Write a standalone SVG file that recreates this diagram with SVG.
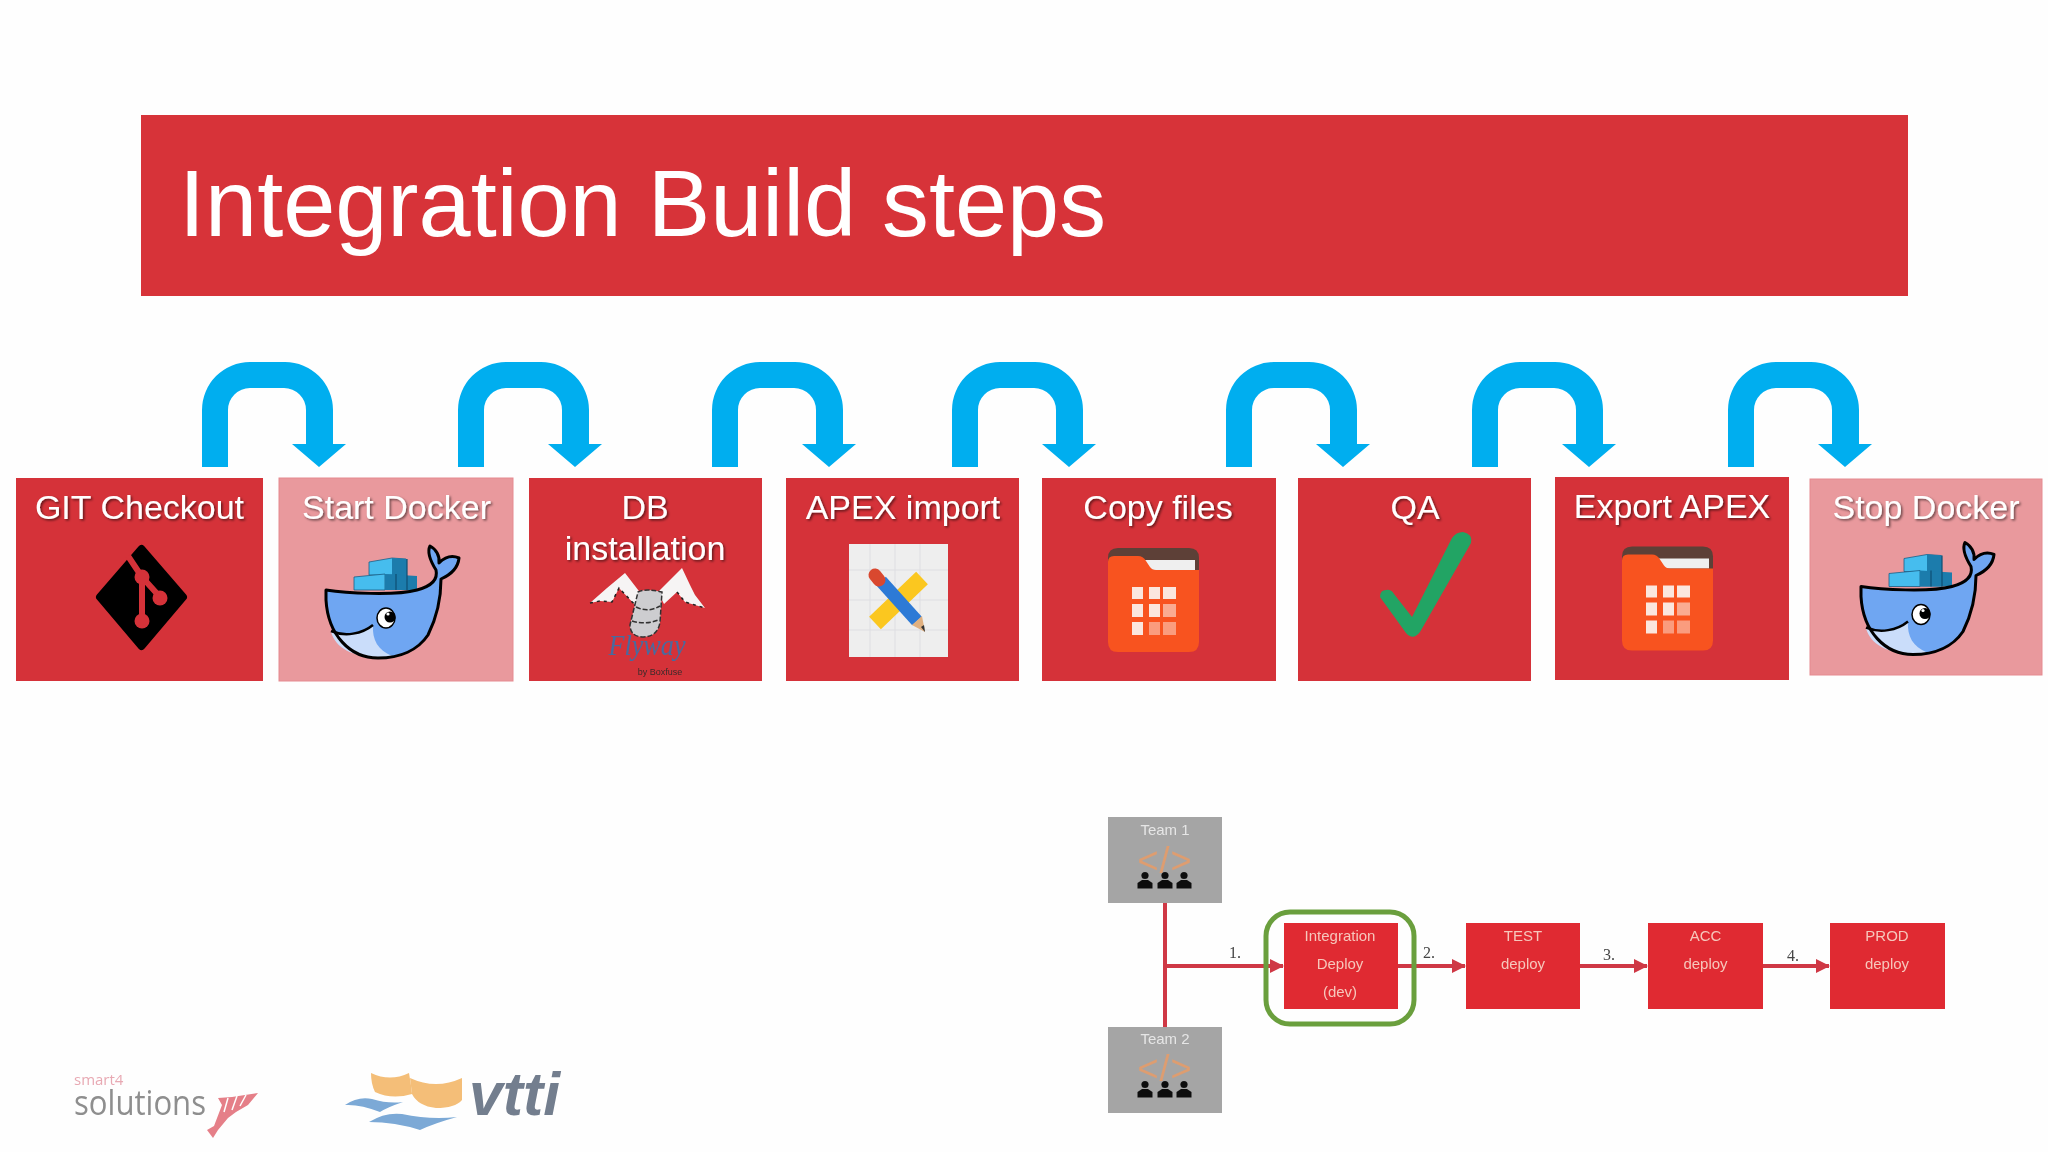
<svg xmlns="http://www.w3.org/2000/svg" xmlns:xlink="http://www.w3.org/1999/xlink" width="2048" height="1152" viewBox="0 0 2048 1152">
<style>
.box{fill:#D53239}
.pale{fill:#E9999D;stroke:#E58A90;stroke-width:1}
.lbl{font-family:"Liberation Sans",Arial,sans-serif;font-size:34px;fill:#fff;text-anchor:middle;filter:url(#ts)}
.sm{fill:#E02B32}
.smt{font-family:"Liberation Sans",Arial,sans-serif;font-size:15px;fill:#F6C7BC;text-anchor:middle}
.team{fill:#A5A5A5}
.teamt{font-family:"Liberation Sans",Arial,sans-serif;font-size:15px;fill:#E6E6E6;text-anchor:middle}
.code{font-family:"Liberation Sans",Arial,sans-serif;font-size:36px;fill:#DE9D70;text-anchor:middle;letter-spacing:1px}
.num{font-family:"Liberation Serif",serif;font-size:16px;fill:#444}
.red{stroke:#CF3845;stroke-width:4;fill:none}
</style>
<defs>
<filter id="ts" x="-10%" y="-20%" width="120%" height="150%"><feDropShadow dx="1.5" dy="1.5" stdDeviation="1" flood-color="#000" flood-opacity="0.55"/></filter>
<filter id="b" x="-5%" y="-5%" width="110%" height="110%"><feGaussianBlur stdDeviation="0.7"/></filter>
<filter id="b2" x="-5%" y="-5%" width="110%" height="110%"><feGaussianBlur stdDeviation="0.6"/></filter>
<marker id="ah" markerUnits="userSpaceOnUse" markerWidth="14" markerHeight="14" refX="13" refY="7" orient="auto"><path d="M0,0L14,7L0,14Z" fill="#CF3845"/></marker>
<path id="uarrow" fill="#00AEEF" d="M0,467V410A48,48 0 0 1 48,362H83A48,48 0 0 1 131,410V444H144L117,467L90,444H104V410A22,22 0 0 0 82,388H48A22,22 0 0 0 26,410V467Z"/>
<g id="whale" stroke-linejoin="round">
<path fill="#46BDEE" stroke="#1A5F86" stroke-width="0.8" d="M369,562L392,558L406,559V575H369Z"/>
<path fill="#1C7CAC" d="M392,558L407,559V590H385V575H392Z"/>
<path fill="#46BDEE" stroke="#1A5F86" stroke-width="0.8" d="M354,577L385,574V590H354Z"/>
<path fill="#1C7CAC" d="M385,574L417,576V590H385Z"/>
<path fill="none" stroke="#0E4F73" stroke-width="1.2" d="M396,574V590M407,559V590"/>
<path fill="#6FA6F2" d="M326,590C345,593 395,596 417,590C432,586 438,579 436,570C431,562 427,552 430,546C436,549 440,556 439,563C445,557 452,555 459,558C458,568 450,575 441,579C441,595 438,615 428,635C418,650 400,658 378,658C350,658 328,635 326,600Z"/>
<path fill="#CADDFA" d="M331,632C345,637 362,634 373,625C372,640 378,650 392,656C388,657 383,657 378,657C352,657 336,648 331,632Z"/>
<path fill="none" stroke="#000" stroke-width="2.5" d="M331,631C345,637 362,634 373,625"/>
<path fill="none" stroke="#000" stroke-width="3" d="M326,590C345,593 395,596 417,590C432,586 438,579 436,570C431,562 427,552 430,546C436,549 440,556 439,563C445,557 452,555 459,558C458,568 450,575 441,579C441,595 438,615 428,635C418,650 400,658 378,658C350,658 328,635 326,600Z"/>
<ellipse cx="386" cy="618" rx="9" ry="10" fill="#fff" stroke="#000" stroke-width="1.5"/>
<circle cx="390" cy="617" r="5.500" fill="#000"/>
<circle cx="388" cy="614" r="1.600" fill="#fff"/>
</g>
<g id="folder">
<path fill="#5D4037" d="M1118,548H1189Q1199,548 1199,558V590H1108V558Q1108,548 1118,548Z"/>
<path fill="#EFEFEF" d="M1144,560H1195V570H1150Z"/>
<path fill="#F8531F" d="M1114,556H1138Q1143,556 1146,561L1150,567Q1152,570 1156,570H1199V642Q1199,652 1189,652H1118Q1108,652 1108,642V562Q1108,556 1114,556Z"/>
<g fill="#FBE6DE">
<rect x="1132" y="587" width="11" height="12"/><rect x="1149" y="587" width="11" height="12"/><rect x="1163" y="587" width="13" height="12"/>
<rect x="1132" y="604" width="11" height="13"/><rect x="1149" y="604" width="11" height="13"/><rect x="1163" y="604" width="13" height="13" opacity="0.6"/>
<rect x="1132" y="622" width="11" height="13"/><rect x="1149" y="622" width="11" height="13" opacity="0.5"/><rect x="1163" y="622" width="13" height="13" opacity="0.5"/>
</g>
</g>
<g id="people" fill="#111">
<circle cx="0" cy="3.500" r="3.600"/><path d="M-3,8H3L7.500,11V16.500H-7.500V11Z"/>
</g>
</defs>
<rect width="2048" height="1152" fill="#FEFEFE"/>

<g id="title">
<rect x="141" y="115" width="1767" height="181" fill="#D73339"/>
<text x="179" y="236" font-family="'Liberation Sans',Arial,sans-serif" font-size="93.700" fill="#fff">Integration Build steps</text>
</g>

<g id="connectors">
<use xlink:href="#uarrow" href="#uarrow" x="202"/>
<use xlink:href="#uarrow" href="#uarrow" x="458"/>
<use xlink:href="#uarrow" href="#uarrow" x="712"/>
<use xlink:href="#uarrow" href="#uarrow" x="952"/>
<use xlink:href="#uarrow" href="#uarrow" x="1226"/>
<use xlink:href="#uarrow" href="#uarrow" x="1472"/>
<use xlink:href="#uarrow" href="#uarrow" x="1728"/>
<g filter="url(#b2)">
<path class="red" d="M1165,903V1027"/>
<path class="red" d="M1165,966H1283" marker-end="url(#ah)"/>
<path class="red" d="M1398,966H1465" marker-end="url(#ah)"/>
<path class="red" d="M1580,966H1647" marker-end="url(#ah)"/>
<path class="red" d="M1763,966H1829" marker-end="url(#ah)"/>
</g>
</g>

<g id="git-checkout">
<rect class="box" x="16" y="478" width="247" height="203"/>
<text class="lbl" x="139.500" y="519">GIT Checkout</text>
<path fill="#000" stroke="#000" stroke-width="8" stroke-linejoin="round" d="M141.500,549L183,597L141.500,646L100,597Z"/>
<path fill="none" stroke="#D53239" stroke-width="6" d="M128,556L142,577V620M142,577L160,597"/>
<circle cx="142" cy="577" r="7.500" fill="#D53239"/><circle cx="160" cy="598" r="7.500" fill="#D53239"/><circle cx="142" cy="621" r="7.500" fill="#D53239"/>
</g>

<g id="start-docker">
<rect class="pale" x="279" y="478" width="234" height="203"/>
<text class="lbl" x="396.500" y="519">Start Docker</text>
<use xlink:href="#whale" href="#whale"/>
</g>

<g id="db-installation">
<rect class="box" x="529" y="478" width="233" height="203"/>
<text class="lbl" x="645" y="519">DB</text>
<text class="lbl" x="645" y="560">installation</text>
<g filter="url(#b2)">
<path fill="#F6F4F4" d="M590,603L607,588L625,573L642,595L637,607L619,588L612,602L600,601Z"/>
<path fill="#F6F4F4" d="M682,568L658,592L664,604L677,592L685,602L705,608L695,595L690,585Z"/>
<path fill="none" stroke="#222" stroke-width="1.500" stroke-dasharray="3 4" d="M590,603L600,601L612,602L619,588L637,607M677,592L685,602L705,608"/>
<path fill="#CDCDD0" stroke="#333" stroke-width="1.500" stroke-dasharray="5 2" d="M638,592Q646,588 662,592L660,622Q658,637 642,637Q630,636 630,625Z"/>
<path fill="none" stroke="#333" stroke-width="1.500" stroke-dasharray="5 2" d="M636,607Q648,613 660,606M632,621Q646,625 658,620"/>
<text x="647" y="655" font-family="'Liberation Serif',serif" font-style="italic" font-size="30" fill="#4A6A9E" text-anchor="middle" textLength="77" lengthAdjust="spacingAndGlyphs">Flyway</text>
<text x="660" y="675" font-family="'Liberation Sans',Arial,sans-serif" font-size="9" fill="#3A2A2A" text-anchor="middle">by Boxfuse</text>
</g>
</g>

<g id="apex-import">
<rect class="box" x="786" y="478" width="233" height="203"/>
<text class="lbl" x="903" y="519">APEX import</text>
<rect x="849" y="544" width="99" height="113" fill="#EEEEEE"/>
<path stroke="#DEDEE2" stroke-width="1" fill="none" d="M870,544V657M895,544V657M920,544V657M849,570H948M849,600H948M849,630H948"/>
<path fill="none" stroke="#FBC71F" stroke-width="17" d="M875,623L922,578"/>
<path fill="none" stroke="#2D7AD6" stroke-width="13" d="M881,581L917,621"/>
<path fill="none" stroke="#D9482F" stroke-width="13" stroke-linecap="round" d="M875,575L879,580"/>
<path fill="#E0B080" d="M912,625L922,616L925,632Z"/>
<path fill="#333" d="M921,627L924,625L925,632Z"/>
</g>

<g id="copy-files">
<rect class="box" x="1042" y="478" width="234" height="203"/>
<text class="lbl" x="1158" y="519">Copy files</text>
<use xlink:href="#folder" href="#folder"/>
</g>

<g id="qa">
<rect class="box" x="1298" y="478" width="233" height="203"/>
<text class="lbl" x="1415" y="519">QA</text>
<path fill="#22A464" d="M1380,597Q1380,590 1386,590Q1391,589 1394,594L1412,617L1452,538Q1456,532 1463,532Q1473,534 1471,543L1420,632Q1413,641 1406,633Z"/>
</g>

<g id="export-apex">
<rect class="box" x="1555" y="477" width="234" height="203"/>
<text class="lbl" x="1672" y="518">Export APEX</text>
<use xlink:href="#folder" href="#folder" x="514" y="-1.500"/>
</g>

<g id="stop-docker">
<rect class="pale" x="1810" y="479" width="232" height="196"/>
<text class="lbl" x="1926" y="519">Stop Docker</text>
<use xlink:href="#whale" href="#whale" x="1535" y="-3.500"/>
</g>

<g id="team-1" filter="url(#b2)">
<rect class="team" x="1108" y="817" width="114" height="86"/>
<text class="teamt" x="1165" y="835">Team 1</text>
<text class="code" x="1165" y="873">&lt;/&gt;</text>
<use xlink:href="#people" href="#people" x="1145" y="872"/><use xlink:href="#people" href="#people" x="1165" y="872"/><use xlink:href="#people" href="#people" x="1184" y="872"/>
</g>
<g id="team-2" filter="url(#b2)">
<rect class="team" x="1108" y="1027" width="114" height="86"/>
<text class="teamt" x="1165" y="1044">Team 2</text>
<text class="code" x="1165" y="1081">&lt;/&gt;</text>
<use xlink:href="#people" href="#people" x="1145" y="1081"/><use xlink:href="#people" href="#people" x="1165" y="1081"/><use xlink:href="#people" href="#people" x="1184" y="1081"/>
</g>
<g id="integration" filter="url(#b2)">
<rect x="1266" y="912" width="148" height="112" rx="24" fill="none" stroke="#6A9F3E" stroke-width="5"/>
<rect class="sm" x="1284" y="923" width="114" height="86"/>
<text class="smt" x="1340" y="941">Integration</text>
<text class="smt" x="1340" y="969">Deploy</text>
<text class="smt" x="1340" y="997">(dev)</text>
</g>
<g id="test" filter="url(#b2)">
<rect class="sm" x="1466" y="923" width="114" height="86"/>
<text class="smt" x="1523" y="941">TEST</text>
<text class="smt" x="1523" y="969">deploy</text>
</g>
<g id="acc" filter="url(#b2)">
<rect class="sm" x="1648" y="923" width="115" height="86"/>
<text class="smt" x="1705.500" y="941">ACC</text>
<text class="smt" x="1705.500" y="969">deploy</text>
</g>
<g id="prod" filter="url(#b2)">
<rect class="sm" x="1830" y="923" width="115" height="86"/>
<text class="smt" x="1887" y="941">PROD</text>
<text class="smt" x="1887" y="969">deploy</text>
</g>
<g id="step-labels" filter="url(#b2)">
<text class="num" x="1229" y="958">1.</text>
<text class="num" x="1423" y="958">2.</text>
<text class="num" x="1603" y="960">3.</text>
<text class="num" x="1787" y="961">4.</text>
</g>

<g id="logo-smart4" filter="url(#b)">
<text x="74" y="1085" font-family="'Open Sans',sans-serif" font-size="15" fill="#E8A9B3">smart4</text>
<text x="74" y="1115" font-family="'Open Sans',sans-serif" font-size="34" fill="#8E8E8E" textLength="132" lengthAdjust="spacingAndGlyphs">solutions</text>
<path fill="#E57F88" d="M207,1130L214,1126L222,1105L218,1098L232,1097L258,1093L248,1105L236,1112L228,1118L218,1130L213,1138Z"/>
<path fill="none" stroke="#FEFEFE" stroke-width="1.500" d="M228,1098L224,1112M237,1096L232,1110M246,1095L240,1106"/>
</g>
<g id="logo-vtti" filter="url(#b)">
<path fill="#F4BE78" d="M371,1073Q390,1082 409,1073Q411,1084 412,1094Q392,1100 375,1092Q371,1084 371,1073Z"/>
<path fill="#F4BE78" d="M410,1078Q436,1090 462,1078V1100Q455,1108 436,1108Q418,1106 412,1094Z"/>
<path fill="#7BA9D6" d="M345,1105Q358,1096 372,1099Q388,1104 403,1102Q388,1107 380,1112Q360,1104 345,1105Z"/>
<path fill="#7BA9D6" d="M369,1122Q385,1112 402,1114Q430,1120 457,1117Q435,1123 420,1130Q395,1122 369,1122Z"/>
<text x="469" y="1115" font-family="'Liberation Sans',Arial,sans-serif" font-weight="bold" font-style="italic" font-size="62" fill="#737E8E" textLength="91" lengthAdjust="spacingAndGlyphs">vtti</text>
</g>
</svg>
